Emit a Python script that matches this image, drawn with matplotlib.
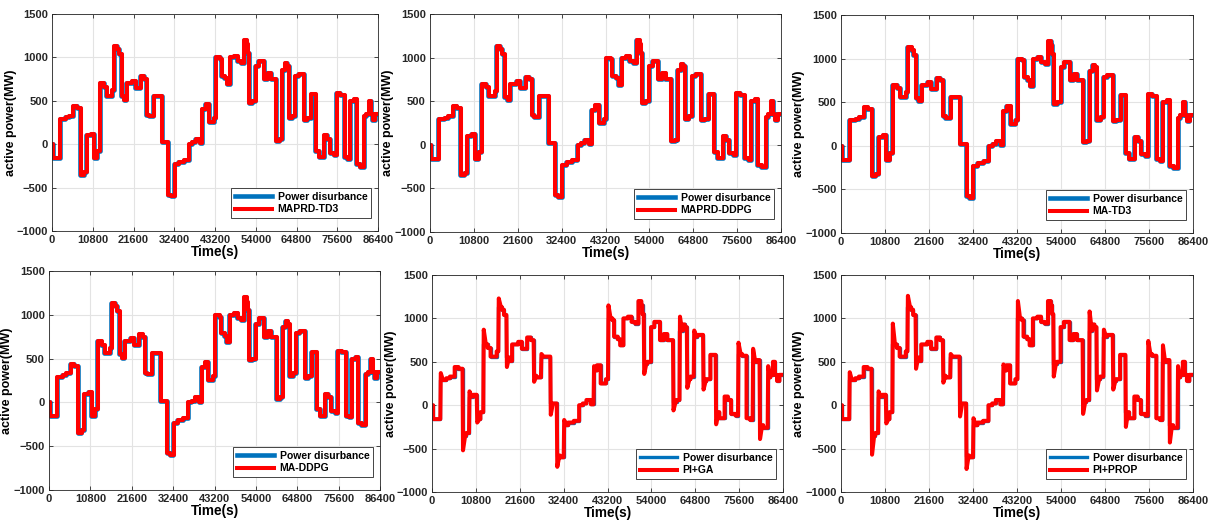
import numpy as np
import matplotlib
matplotlib.use('Agg')
import matplotlib.pyplot as plt

plt.rcParams['font.family'] = ['Liberation Sans', 'DejaVu Sans']
plt.rcParams['font.weight'] = 'bold'

# power disturbance: step start times (s) and levels (MW)
step_t = [0, 250, 2030, 3500, 4400, 5570, 6500, 7500, 8400, 9100, 10200, 11000,
          11900, 12600, 13700, 14400, 15900, 16300, 17200, 17700, 18300, 19000,
          19700, 21200, 22100, 23400, 24300, 25000, 25600, 26800, 29100, 30700,
          31500, 32400, 33500, 34900, 36200, 37100, 38000, 39100, 39750, 40600,
          41500, 42800, 43300, 44400, 44800, 45700, 46300, 47100, 48200, 49100,
          50000, 50800, 51500, 51800, 52100, 53000, 53900, 54700, 56100, 57000,
          57900, 59300, 60200, 60900, 61700, 62200, 62700, 63600, 64400, 65300,
          66700, 67500, 68500, 69800, 70700, 72000, 72800, 73600, 74700, 75300,
          76300, 77400, 78300, 78900, 79900, 80600, 81500, 82600, 83200, 83900,
          84400, 84900, 85500]
step_v = [0, -160, 290, 310, 330, 440, 420, -350, -320, 100, 120, -160,
          -80, 700, 660, 560, 620, 1130, 1100, 1040, 550, 510,
          700, 730, 650, 780, 750, 340, 320, 560, 20, -580,
          -600, -230, -200, -180, 0, 20, 60, 10, 400, 460,
          250, 300, 1000, 980, 790, 760, 690, 1000, 1020, 960,
          940, 1200, 1150, 1050, 480, 500, 900, 960, 750, 820,
          750, 40, 60, 860, 930, 900, 300, 330, 790, 810,
          280, 300, 580, -80, -150, 100, 60, -100, -120, 590,
          570, -150, -170, 500, 520, -230, -260, 320, 350, 500,
          350, 280, 350]

# overshoot peaks of the PI controllers: (step time, peak MW)
ga_spike_t = [2030, 7500, 9100, 11000, 12600, 16300, 18300, 25000, 26800, 29100,
              30700, 32400, 39750, 43300, 52100, 59300, 60900, 62700, 64400, 66700,
              69800, 75300, 78900, 80600, 82600]
ga_spike_v = [370, -520, 160, -200, 870, 1230, 440, 270, 590, -110,
              -710, -170, 450, 1150, 360, -60, 1020, 200, 860, 180,
              -220, 720, 650, -390, 450]
prop_spike_t = [2030, 7500, 9100, 11000, 12600, 16300, 18300, 25000, 26800, 29100,
                30700, 32400, 39750, 43300, 52100, 59300, 60900, 62700, 64400, 66700,
                69800, 75300, 78900, 80600, 82600]
prop_spike_v = [380, -570, 160, -210, 940, 1260, 420, 260, 590, -130,
                -735, -150, 470, 1200, 330, -100, 1080, 170, 870, 180,
                -250, 740, 690, -430, 450]

labels = ['MAPRD-TD3', 'MAPRD-DDPG', 'MA-TD3', 'MA-DDPG', 'PI+GA', 'PI+PROP']
T_END = 86400

# axes boxes in figure fractions [left, bottom, width, height]
boxes = [
    [0.0428, 0.5617, 0.2681, 0.4118],
    [0.3536, 0.5598, 0.2887, 0.4137],
    [0.6916, 0.5579, 0.2895, 0.4137],
    [0.0403, 0.0702, 0.2722, 0.4156],
    [0.3553, 0.0664, 0.2887, 0.4118],
    [0.6916, 0.0664, 0.2895, 0.4118],
]


def step_line(t, v, lag=0.0):
    xs, ys = [], []
    for i in range(len(t)):
        ti = t[i] + (lag if i > 0 else 0)
        if i > 0:
            xs.append(ti)
            ys.append(v[i - 1])
        xs.append(ti)
        ys.append(v[i])
    xs.append(T_END)
    ys.append(v[-1])
    return np.array(xs), np.array(ys)


def pi_line(t, v, sp_t, sp_v, rise=120, decay=650):
    peaks = dict(zip(sp_t, sp_v))
    xs, ys = [], []
    for i in range(len(t)):
        if i > 0:
            xs.append(t[i])
            ys.append(v[i - 1])
        if t[i] in peaks:
            xs.append(t[i] + rise)
            ys.append(peaks[t[i]])
            xs.append(t[i] + decay)
            ys.append(v[i])
        else:
            xs.append(t[i])
            ys.append(v[i])
    xs.append(T_END)
    ys.append(v[-1])
    return np.array(xs), np.array(ys)


blue = '#0072BD'
W, H = 1216, 527
fig = plt.figure(figsize=(W / 100, H / 100), dpi=100)

dist_x, dist_y = step_line(step_t, step_v)
for k, lab in enumerate(labels):
    ax = fig.add_axes(boxes[k])
    if lab == 'PI+GA':
        rx, ry = pi_line(step_t, step_v, ga_spike_t, ga_spike_v)
        bw = 2.4
    elif lab == 'PI+PROP':
        rx, ry = pi_line(step_t, step_v, prop_spike_t, prop_spike_v)
        bw = 2.4
    else:
        rx, ry = step_line(step_t, step_v, lag=110)
        bw = 3.3
    ax.plot(dist_x, dist_y, color=blue, lw=bw, label='Power disurbance')
    ax.plot(rx, ry, color='#FF0000', lw=2.9, label=lab)

    ax.set_xlim(0, T_END)
    ax.set_ylim(-1000, 1500)
    ax.set_xticks(np.arange(0, 86401, 10800))
    ax.set_yticks(np.arange(-1000, 1501, 500))
    ax.tick_params(direction='in', labelsize=8, length=3, width=0.6,
                   colors='#262626', top=True, right=True, pad=3)
    for lbl in ax.get_xticklabels() + ax.get_yticklabels():
        lbl.set_fontweight('bold')
    ax.grid(True, color='#e3e3e3', lw=0.8)
    ax.set_axisbelow(True)
    for s in ax.spines.values():
        s.set_color('#262626')
        s.set_linewidth(0.6)
    ax.set_xlabel('Time(s)', fontsize=9.8, fontweight='bold', labelpad=0)
    ax.set_ylabel('active power(MW)', fontsize=9, fontweight='bold', labelpad=0)

    # legend box sits ~7 px from the right and ~13 px from the bottom
    aw, ah = boxes[k][2] * W, boxes[k][3] * H
    leg = ax.legend(loc='lower right', bbox_to_anchor=(1 - 7 / aw, 13 / ah),
                    borderaxespad=0, fontsize=7.5, handlelength=3.6,
                    fancybox=False, framealpha=1, edgecolor='#262626',
                    borderpad=0.35, labelspacing=0.25, handletextpad=0.5)
    leg.get_frame().set_linewidth(0.6)
    for txt in leg.get_texts():
        txt.set_fontweight('bold')

fig.savefig('out.png', dpi=100)
